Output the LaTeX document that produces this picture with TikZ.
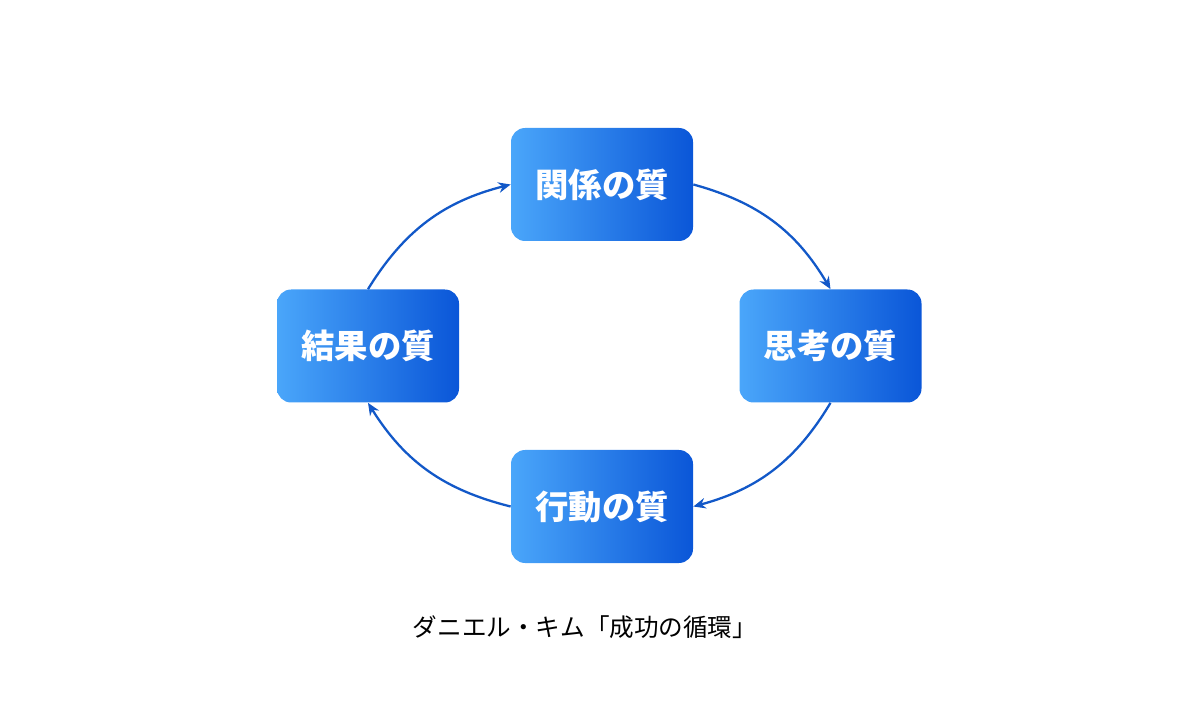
\documentclass[tikz,border=0pt]{standalone}
\usepackage{fontspec}
\newfontfamily\cjk{Noto Sans CJK JP}
\usetikzlibrary{arrows.meta}
\definecolor{boxlight}{HTML}{4AA6FA}
\definecolor{boxdark}{HTML}{0A56D8}
\definecolor{arrowblue}{HTML}{1258C8}
\tikzset{
  quality/.style={rounded corners=8pt, minimum width=182*0.02cm, minimum height=113*0.02cm,
    left color=boxlight, right color=boxdark, text=white, font=\cjk\bfseries\fontsize{19}{22}\selectfont},
  cycle/.style={draw=arrowblue, line width=1.3pt, -{Stealth[length=7pt,width=6pt]}}
}
\begin{document}
\begin{tikzpicture}[x=0.02cm,y=-0.02cm]
  \useasboundingbox (0,0) rectangle (1200,722);
  \node[quality] (rel) at (602,184.5) {関係の質};
  \node[quality] (think) at (830.5,346) {思考の質};
  \node[quality] (act) at (602,506.5) {行動の質};
  \node[quality] (res) at (368,346) {結果の質};
  \draw[cycle] (rel.east) to[bend left=22] (think.north);
  \draw[cycle] (think.south) to[bend left=22] (act.east);
  \draw[cycle] (act.west) to[bend left=22] (res.south);
  \draw[cycle] (res.north) to[bend left=22] (rel.west);
  \node[font=\cjk\fontsize{14}{16}\selectfont] (title) at (585,627) {ダニエル・キム「成功の循環」};
\end{tikzpicture}
\end{document}
